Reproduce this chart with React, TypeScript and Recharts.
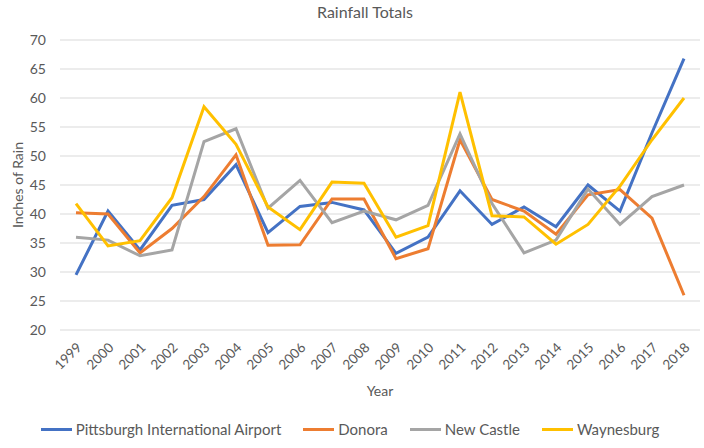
import React from 'react';
import {
  LineChart,
  Line,
  XAxis,
  YAxis,
  CartesianGrid,
  Legend,
} from 'recharts';

const years = [
  '1999', '2000', '2001', '2002', '2003', '2004', '2005', '2006', '2007', '2008',
  '2009', '2010', '2011', '2012', '2013', '2014', '2015', '2016', '2017', '2018',
];
const pittsburgh = [29.5, 40.5, 33.8, 41.5, 42.5, 48.5, 36.8, 41.3, 42, 40.7, 33.2, 36, 44, 38.2, 41.2, 37.8, 45, 40.5, 54, 66.8];
const donora = [40.2, 40, 33.3, 37.5, 43, 50.2, 34.6, 34.7, 42.6, 42.6, 32.3, 34, 52.8, 42.5, 40.5, 36.5, 43.3, 44.2, 39.3, 26];
const newCastle = [36, 35.5, 32.8, 33.8, 52.5, 54.7, 41, 45.8, 38.5, 40.5, 39, 41.5, 53.8, 41.8, 33.3, 35.5, 44.3, 38.2, 43, 45];
const waynesburg = [41.8, 34.5, 35.4, 42.8, 58.5, 52, 41.2, 37.3, 45.5, 45.3, 36, 38, 61, 39.7, 39.5, 34.8, 38.2, 44.8, 52.8, 60];
const yTicks = [20, 25, 30, 35, 40, 45, 50, 55, 60, 65, 70];

const series = [
  { key: 'pittsburgh', name: 'Pittsburgh International Airport', color: '#4472C4', values: pittsburgh },
  { key: 'donora', name: 'Donora', color: '#ED7D31', values: donora },
  { key: 'newCastle', name: 'New Castle', color: '#A5A5A5', values: newCastle },
  { key: 'waynesburg', name: 'Waynesburg', color: '#FFC000', values: waynesburg },
];

const data = years.map((year, i) => {
  const row: any = { year };
  series.forEach((s) => {
    row[s.key] = s.values[i];
  });
  return row;
});

const font = 'Lato, "Open Sans", sans-serif';
const textColor = '#595959';

const YearTick = (props: any) => {
  const { x, y, payload } = props;
  return (
    <text
      x={x + 4}
      y={y + 8}
      transform={`rotate(-45, ${x + 4}, ${y + 8})`}
      textAnchor="end"
      dominantBaseline="middle"
      fill={textColor}
      fontSize={13.5}
      fontFamily={font}
    >
      {payload.value}
    </text>
  );
};

const LegendContent = (props: any) => {
  const order = series.map((s) => s.name);
  const payload = [...(props.payload || [])].sort(
    (a: any, b: any) => order.indexOf(a.value) - order.indexOf(b.value)
  );
  return (
    <div style={{ display: 'flex', justifyContent: 'center', fontFamily: font, fontSize: 15, color: textColor }}>
      {payload.map((p: any) => (
        <div key={p.value} style={{ display: 'flex', alignItems: 'center', margin: '0 11px' }}>
          <span style={{ display: 'inline-block', width: 31, height: 3, background: p.color, marginRight: 4 }} />
          <span>{p.value}</span>
        </div>
      ))}
    </div>
  );
};

export default function App() {
  return (
    <div style={{ position: 'absolute', left: 0, top: 0, width: 704, height: 448, background: '#fff' }}>
      <div
        style={{
          position: 'absolute',
          top: 2,
          left: 0,
          width: 730,
          textAlign: 'center',
          fontFamily: font,
          fontSize: 16,
          color: textColor,
        }}
      >
        Rainfall Totals
      </div>
      <LineChart width={704} height={448} data={data} margin={{ top: 40, right: 4, bottom: 0, left: 0 }}>
        <CartesianGrid vertical={false} stroke="#D9D9D9" strokeWidth={1} />
        <XAxis
          dataKey="year"
          axisLine={false}
          tickLine={false}
          interval={0}
          padding={{ left: 16, right: 16 }}
          height={90}
          tick={<YearTick />}
          label={{ value: 'Year', position: 'insideTop', offset: 56, fill: textColor, fontSize: 14, fontFamily: font }}
        />
        <YAxis
          domain={[20, 70]}
          ticks={yTicks}
          axisLine={false}
          tickLine={false}
          tickMargin={8}
          width={60}
          tick={{ fill: textColor, fontSize: 14, fontFamily: font }}
          label={{ value: 'Inches of Rain', angle: -90, position: 'insideLeft', offset: 18, fill: textColor, fontSize: 14, fontFamily: font, style: { textAnchor: 'middle' } }}
        />
        <Legend verticalAlign="bottom" height={28} content={<LegendContent />} />
        {series.map((s) => (
          <Line
            key={s.key}
            type="linear"
            dataKey={s.key}
            name={s.name}
            stroke={s.color}
            strokeWidth={3}
            dot={false}
            isAnimationActive={false}
          />
        ))}
      </LineChart>
    </div>
  );
}
